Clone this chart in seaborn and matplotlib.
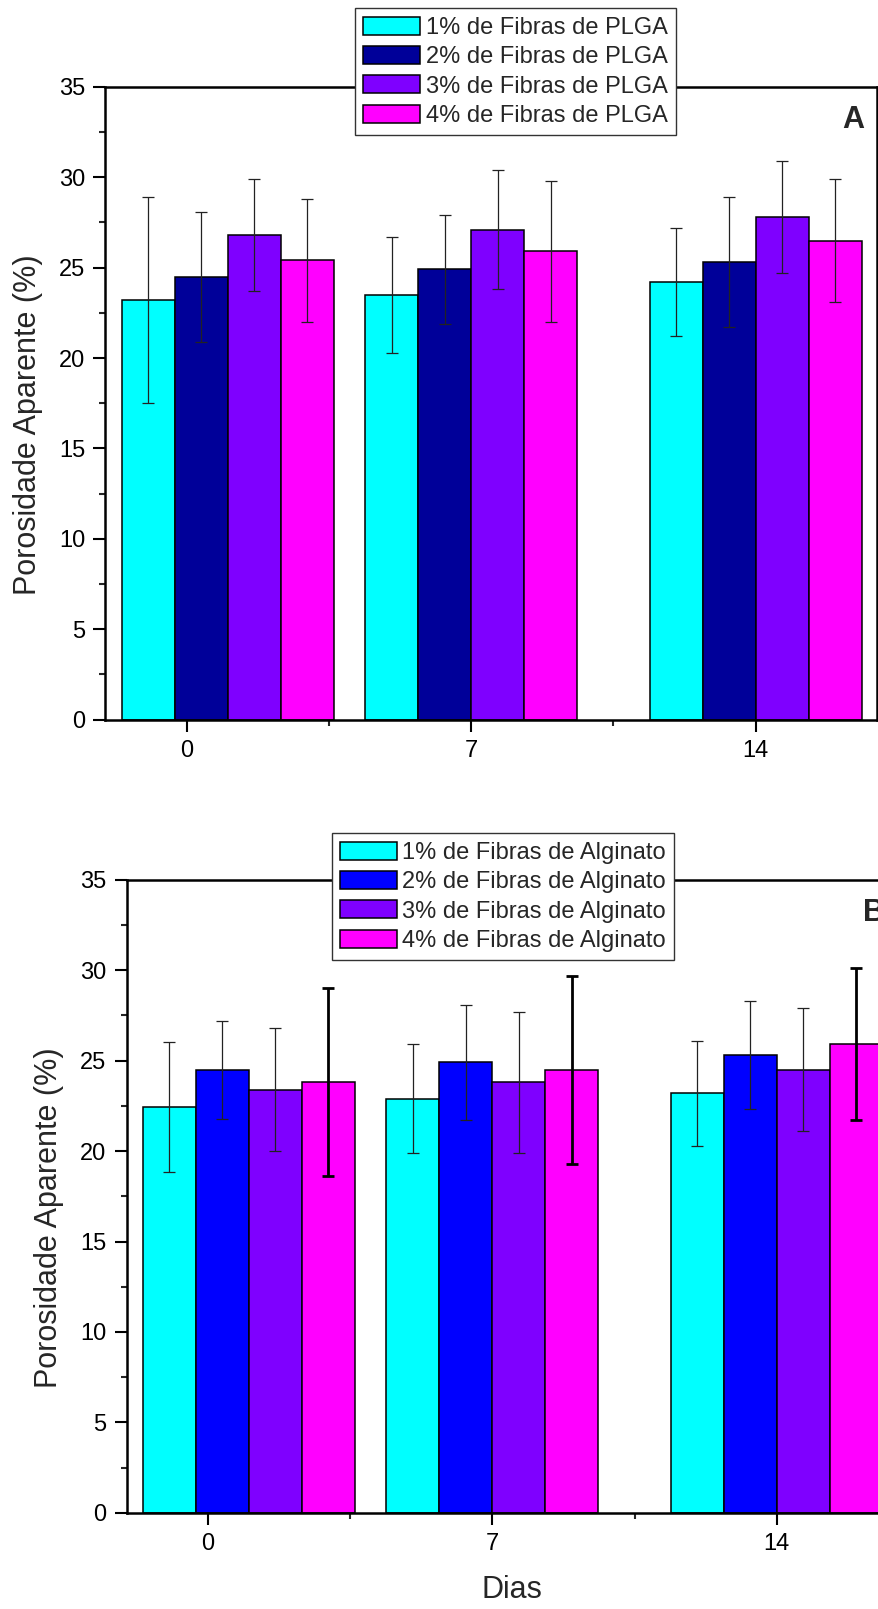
import matplotlib
matplotlib.use("Agg")
import matplotlib.pyplot as plt
from matplotlib.patches import Patch
from matplotlib.ticker import AutoMinorLocator, MultipleLocator
import numpy as np
import pandas as pd
import seaborn as sns

# ---- data -------------------------------------------------------------
dias = ["0", "7", "14"]

plga_labels = ["1% de Fibras de PLGA", "2% de Fibras de PLGA",
               "3% de Fibras de PLGA", "4% de Fibras de PLGA"]
plga_mean = [
    [23.2, 23.5, 24.2],
    [24.5, 24.9, 25.3],
    [26.8, 27.1, 27.8],
    [25.4, 25.9, 26.5],
]
plga_err = [
    [5.7, 3.2, 3.0],
    [3.6, 3.0, 3.6],
    [3.1, 3.3, 3.1],
    [3.4, 3.9, 3.4],
]

alg_labels = ["1% de Fibras de Alginato", "2% de Fibras de Alginato",
              "3% de Fibras de Alginato", "4% de Fibras de Alginato"]
alg_mean = [
    [22.45, 22.9, 23.2],
    [24.5, 24.9, 25.3],
    [23.4, 23.8, 24.5],
    [23.8, 24.5, 25.9],
]
alg_err = [
    [3.6, 3.0, 2.9],
    [2.7, 3.2, 3.0],
    [3.4, 3.9, 3.4],
    [5.2, 5.2, 4.2],
]

plga_colors = ["#00FFFF", "#000099", "#7F00FF", "#FF00FF"]
alg_colors = ["#00FFFF", "#0000FF", "#7F00FF", "#FF00FF"]

# ---- style ------------------------------------------------------------
sns.set_style("ticks")
plt.rcParams["font.family"] = ["Liberation Sans", "DejaVu Sans"]
plt.rcParams["axes.linewidth"] = 1.8
plt.rcParams["axes.edgecolor"] = "black"

FIRST_GROUP_SHIFT = 0.143   # the day-0 group sits a little inside the axis
GROUP_WIDTH = 0.7457


def long_table(labels, means):
    rows = []
    for lab, vals in zip(labels, means):
        for d, v in zip(dias, vals):
            rows.append({"Dias": d, "serie": lab, "valor": v})
    return pd.DataFrame(rows)


def panel(ax, labels, means, errs, colors, tag, legend_anchor,
          err_styles):
    df = long_table(labels, means)
    sns.barplot(data=df, x="Dias", y="valor", hue="serie", order=dias,
                hue_order=labels, palette=colors, saturation=1,
                width=GROUP_WIDTH, errorbar=None, edgecolor="black",
                linewidth=1.1, legend=False, ax=ax)

    bars = [p for p in ax.patches if p.get_height() > 0]
    for p in bars:
        if p.get_x() + p.get_width() / 2 < 0.5:
            p.set_x(p.get_x() + FIRST_GROUP_SHIFT)
    bars.sort(key=lambda p: p.get_x())

    # bars are now ordered day-major, series-minor
    for i, p in enumerate(bars):
        c, k = divmod(i, len(labels))
        xc = p.get_x() + p.get_width() / 2
        lw, col = err_styles[k]
        ax.errorbar(xc, means[k][c], yerr=errs[k][c], fmt="none",
                    ecolor=col, elinewidth=lw, capsize=4.6, capthick=lw,
                    zorder=4)

    ax.set_xlim(-0.2867, 2.4263)
    ax.set_ylim(0, 35)
    ax.yaxis.set_major_locator(MultipleLocator(5))
    ax.yaxis.set_minor_locator(AutoMinorLocator(2))
    ax.xaxis.set_minor_locator(AutoMinorLocator(2))
    ax.tick_params(which="major", direction="out", length=8.6, width=1.5,
                   labelsize=17, pad=6, colors="black")
    ax.tick_params(which="minor", direction="out", length=4.3, width=1.5)
    ax.tick_params(top=False, right=False, which="both")
    for s in ax.spines.values():
        s.set_visible(True)
        s.set_linewidth(1.8)
        s.set_color("black")

    ax.set_ylabel("Porosidade Aparente (%)", fontsize=22, va="center")
    ax.yaxis.set_label_coords(-0.101, 0.466)

    ax.text(0.969, 0.948, tag, transform=ax.transAxes, fontsize=22,
            fontweight="bold", ha="center", va="center")

    handles = [Patch(facecolor=c, edgecolor="black", linewidth=1.1)
               for c in colors]
    leg = ax.legend(handles, labels, loc="upper center",
                    bbox_to_anchor=legend_anchor, fontsize=17,
                    frameon=True, fancybox=False, framealpha=1,
                    edgecolor="#333333", handlelength=2.4,
                    handleheight=0.8, handletextpad=0.25,
                    labelspacing=0.3, borderpad=0.35, borderaxespad=0)
    leg.get_frame().set_linewidth(1.0)
    leg.set_zorder(10)


fig = plt.figure(figsize=(8.79, 16.09), dpi=100)
axA = fig.add_axes([0.1200, 0.5528, 0.8775, 0.3932])
axB = fig.add_axes([0.1441, 0.0598, 0.8775, 0.3934])

thin = (0.9, "#222222")
thick = (2.0, "black")

panel(axA, plga_labels, plga_mean, plga_err, plga_colors, "A",
      (0.5316, 1.124), [thin, thin, thin, thin])
axA.set_xlabel("")

panel(axB, alg_labels, alg_mean, alg_err, alg_colors, "B",
      (0.4879, 1.0733), [thin, thin, thin, thick])
axB.set_xlabel("Dias", fontsize=22, labelpad=14)

fig.savefig("out.png", dpi=100)
